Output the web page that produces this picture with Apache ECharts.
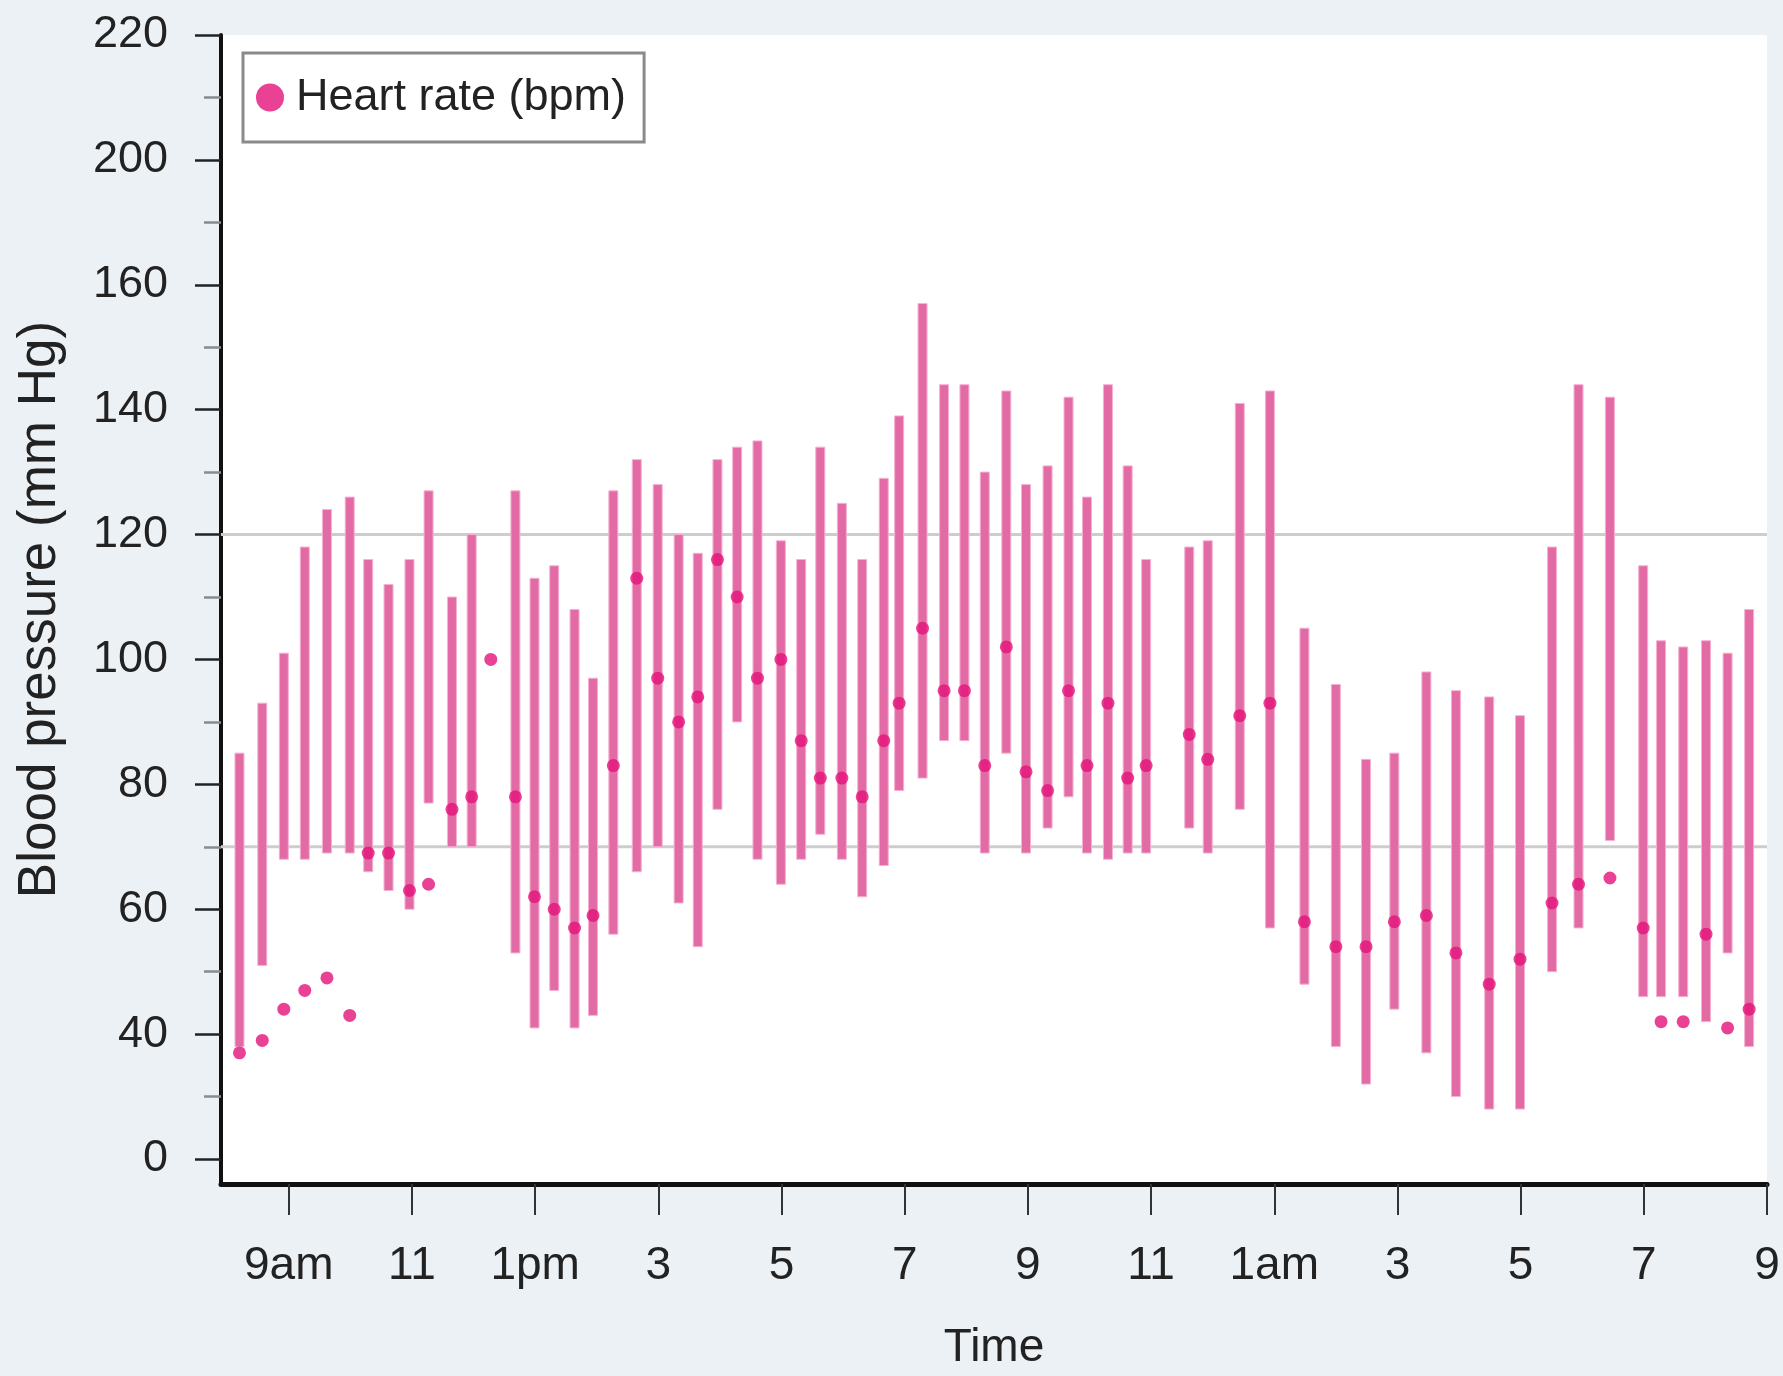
<!DOCTYPE html>
<html>
<head>
<meta charset="utf-8">
<script src="https://cdn.jsdelivr.net/npm/echarts@6/dist/echarts.min.js"></script>
<style>
  html, body { margin: 0; padding: 0; background: #ecf1f5; }
  #chart { width: 1783px; height: 1376px; }
</style>
</head>
<body>
<div id="chart"></div>
<script>
// Time of each reading, in hours from midnight of day 1 (24 = 12am, 33 = 9am next day)
const times = [8.2, 8.57, 8.92, 9.26, 9.62, 9.99, 10.29, 10.62, 10.96, 11.27, 11.65, 11.97,
  12.28, 12.68, 12.99, 13.31, 13.64, 13.94, 14.27, 14.65, 14.99, 15.33, 15.64, 15.96,
  16.28, 16.61, 16.99, 17.32, 17.63, 17.98, 18.31, 18.66, 18.91, 19.29, 19.64, 19.97,
  20.30, 20.65, 20.97, 21.32, 21.66, 21.96, 22.30, 22.62, 22.92, 23.62, 23.92, 24.44,
  24.93, 25.49, 26.0, 26.49, 26.95, 27.47, 27.95, 28.49, 28.99, 29.51, 29.94, 30.45,
  30.99, 31.28, 31.64, 32.01, 32.36, 32.71];
// Systolic (top of bar)
const systolic = [85, 93, 101, 118, 124, 126, 116, 112, 116, 127, 110, 120,
  null, 127, 113, 115, 108, 97, 127, 132, 128, 120, 117, 132,
  134, 135, 119, 116, 134, 125, 116, 129, 139, 157, 144, 144,
  130, 143, 128, 131, 142, 126, 144, 131, 116, 118, 119, 141,
  143, 105, 96, 84, 85, 98, 95, 94, 91, 118, 144, 142,
  115, 103, 102, 103, 101, 108];
// Diastolic (bottom of bar)
const diastolic = [38, 51, 68, 68, 69, 69, 66, 63, 60, 77, 70, 70,
  null, 53, 41, 47, 41, 43, 56, 66, 70, 61, 54, 76,
  90, 68, 64, 68, 72, 68, 62, 67, 79, 81, 87, 87,
  69, 85, 69, 73, 78, 69, 68, 69, 69, 73, 69, 76,
  57, 48, 38, 32, 44, 37, 30, 28, 28, 50, 57, 71,
  46, 46, 46, 42, 53, 38];
// Heart rate (bpm)
const heartRate = [37, 39, 44, 47, 49, 43, 69, 69, 63, 64, 76, 78,
  100, 78, 62, 60, 57, 59, 83, 113, 97, 90, 94, 116,
  110, 97, 100, 87, 81, 81, 78, 87, 93, 105, 95, 95,
  83, 102, 82, 79, 95, 83, 93, 81, 83, 88, 84, 91,
  93, 58, 54, 54, 58, 59, 53, 48, 52, 61, 64, 65,
  57, 42, 42, 56, 41, 44];
// Gray reference lines
const refLines = [120, 70];
// Axis ticks and labels (as printed in the figure)
const xTickValues = [9, 11, 13, 15, 17, 19, 21, 23, 25, 27, 29, 31, 33];
const xTickLabels = ['9am', '11', '1pm', '3', '5', '7', '9', '11', '1am', '3', '5', '7', '9'];
const yTickValues = [20, 40, 60, 80, 100, 120, 140, 160, 180, 200];
const yTickLabels = ['0', '40', '60', '80', '100', '120', '140', '160', '200', '220'];
const yMinorTicks = [30, 50, 70, 90, 110, 130, 150, 170, 190];

const X_MIN = 7.9, X_MAX = 33, Y_MIN = 16, Y_MAX = 200;
const SANS = "'Liberation Sans', Arial, sans-serif";

const bpData = [];
times.forEach((t, i) => {
  if (systolic[i] != null && diastolic[i] != null) bpData.push([t, diastolic[i], systolic[i]]);
});
const hrData = times.map((t, i) => [t, heartRate[i]]);

const chart = echarts.init(document.getElementById('chart'), null, { renderer: 'canvas' });
chart.setOption({
  backgroundColor: '#ecf1f5',
  animation: false,
  grid: { left: 221, right: 16, top: 35, bottom: 189, show: true, backgroundColor: '#ffffff', borderWidth: 0 },
  legend: {
    data: ['Heart rate (bpm)'],
    left: 243, top: 53,
    padding: [22, 18, 22, 13],
    itemWidth: 28, itemHeight: 28,
    icon: 'circle',
    backgroundColor: '#ffffff',
    borderColor: '#8a8a8a', borderWidth: 3,
    textStyle: { fontSize: 45, fontFamily: SANS, color: '#222', padding: [0, 0, 0, 7] }
  },
  xAxis: {
    type: 'value', min: X_MIN, max: X_MAX,
    name: 'Time', nameLocation: 'middle', nameGap: 141,
    nameTextStyle: { fontSize: 46, fontFamily: SANS, color: '#222' },
    axisLine: { show: true, onZero: false, lineStyle: { color: '#111', width: 5 } },
    axisTick: { show: true, customValues: xTickValues, length: 31, lineStyle: { color: '#333', width: 2 } },
    axisLabel: {
      customValues: xTickValues, fontSize: 46, fontFamily: SANS, color: '#222', margin: 59,
      formatter: v => { const k = xTickValues.indexOf(v); return k >= 0 ? xTickLabels[k] : ''; }
    },
    splitLine: { show: false }
  },
  yAxis: [{
    type: 'value', min: Y_MIN, max: Y_MAX,
    name: 'Blood pressure (mm Hg)', nameLocation: 'middle', nameGap: 154,
    nameTextStyle: { fontSize: 53, fontFamily: SANS, color: '#222' },
    axisLine: { show: true, onZero: false, lineStyle: { color: '#111', width: 4 } },
    axisTick: { show: true, customValues: yTickValues, length: 26, lineStyle: { color: '#222', width: 2.5 } },
    axisLabel: {
      customValues: yTickValues, fontSize: 45, fontFamily: SANS, color: '#222', margin: 53,
      formatter: v => { const k = yTickValues.indexOf(v); return k >= 0 ? yTickLabels[k] : ''; }
    },
    splitLine: { show: false }
  }, {
    type: 'value', min: Y_MIN, max: Y_MAX, position: 'left',
    axisLine: { show: false, onZero: false },
    axisTick: { show: true, customValues: yMinorTicks, length: 17, lineStyle: { color: '#8a8a8a', width: 2.5 } },
    axisLabel: { show: false },
    splitLine: { show: false }
  }],
  series: [{
    type: 'custom',
    name: 'ref',
    silent: true,
    z: 1,
    data: refLines.map(v => [X_MIN, v]),
    renderItem: (params, api) => {
      const cs = params.coordSys;
      const y = api.coord([X_MIN, api.value(1)])[1];
      return { type: 'line', shape: { x1: cs.x, y1: y, x2: cs.x + cs.width, y2: y },
        style: { stroke: '#cdcdcd', lineWidth: 3 } };
    }
  }, {
    type: 'custom',
    name: 'Blood pressure',
    z: 2,
    data: bpData,
    encode: { x: 0, y: [1, 2] },
    renderItem: (params, api) => {
      const t = api.value(0);
      const lo = api.coord([t, api.value(1)]);
      const hi = api.coord([t, api.value(2)]);
      const w = 9;
      return { type: 'rect', shape: { x: lo[0] - w / 2, y: hi[1], width: w, height: lo[1] - hi[1] },
        style: { fill: '#e36ba5', stroke: '#f6b0d0', lineWidth: 1 } };
    }
  }, {
    type: 'scatter',
    name: 'Heart rate (bpm)',
    z: 3,
    data: hrData,
    symbol: 'circle',
    symbolSize: 13,
    itemStyle: { color: '#e3137a' }
  }]
});
</script>
</body>
</html>
